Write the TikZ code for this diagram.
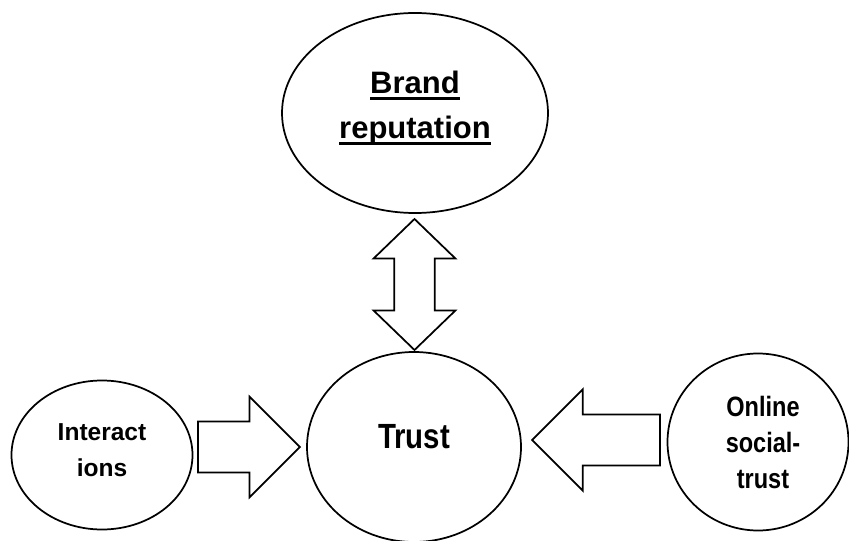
\documentclass[tikz,border=0pt]{standalone}
\usepackage{fontspec}
\setmainfont{Liberation Sans}
\newfontfamily\narrowsans{Liberation Sans}[FakeStretch=0.84]
\usetikzlibrary{shapes.geometric,shapes.arrows,calc}

\newcommand\thickul[1]{\setbox0\hbox{#1}\rlap{\vrule height -2.8pt depth 4.8pt width \wd0}\box0}

\begin{document}
\begin{tikzpicture}[x=0.75pt,y=-0.75pt,
  bubble/.style={draw, ellipse, line width=1.3pt, inner sep=0pt},
  blockarrow/.style={draw, single arrow, line width=1.3pt, inner xsep=0pt,
    single arrow tip angle=90}]
\useasboundingbox (0,0) rectangle (849,541);

\node[bubble, minimum width=199.5pt, minimum height=150pt] (brand) at (415,113) {};
\node[bubble, minimum width=160.5pt, minimum height=142.5pt] (trust) at (414,447) {};
\node[bubble, minimum width=135.75pt, minimum height=111.75pt] (inter) at (102,455) {};
\node[bubble, minimum width=135.75pt, minimum height=132.75pt] (online) at (758,442) {};

\node[align=center, font=\bfseries\fontsize{23.25}{33.75}\selectfont] (brandtxt)
  at ([yshift=4pt]brand.center) {\thickul{Brand}\\\thickul{reputation}};
\node[font=\narrowsans\bfseries\fontsize{26.25}{30}\selectfont] (trusttxt)
  at ([yshift=7.7pt]trust.center) {Trust};
\node[align=center, font=\bfseries\fontsize{18.4}{27}\selectfont] (intertxt)
  at ([yshift=3.75pt]inter.center) {Interact\\ions};
\node[align=center, font=\narrowsans\bfseries\fontsize{21}{27}\selectfont] (onlinetxt)
  at ([xshift=3.75pt]online.center) {Online\\social-\\trust};

\node[blockarrow, anchor=tip, minimum height=76.5pt, minimum width=74.25pt,
  inner ysep=18.4pt, single arrow head extend=18.75pt] (intoarrow)
  at ([xshift=-3.75pt]trust.west) {};
\node[blockarrow, shape border rotate=180, anchor=tip, minimum height=96pt,
  minimum width=75pt, inner ysep=18.4pt, single arrow head extend=19pt] (onarrow)
  at ($(trust.east)+(9,-7)$) {};
\node[draw, double arrow, rotate=90, line width=1.3pt, inner xsep=0pt,
  inner ysep=14.6pt, double arrow head extend=15.4pt, double arrow tip angle=92,
  minimum height=98.25pt, minimum width=60pt] (brarrow)
  at ($(brand.south)!0.5!(trust.north)+(0,2)$) {};
\end{tikzpicture}
\end{document}
